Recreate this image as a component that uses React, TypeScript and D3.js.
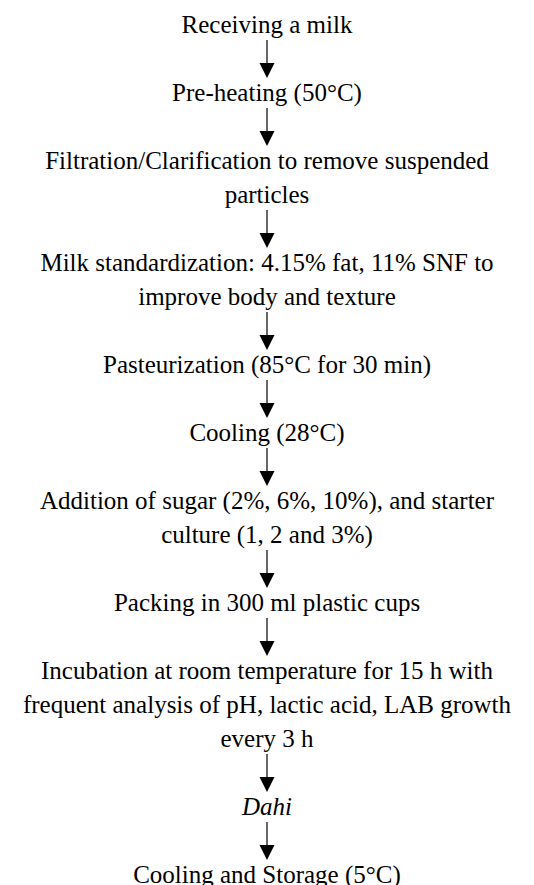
import React, { useEffect, useRef } from 'react';
import * as d3 from 'd3';

// flow steps, top to bottom (each entry = wrapped lines of one box)
const stepLines: string[][] = [
  ['Receiving a milk'],
  ['Pre-heating (50°C)'],
  ['Filtration/Clarification to remove suspended', 'particles'],
  ['Milk standardization: 4.15% fat, 11% SNF to', 'improve body and texture'],
  ['Pasteurization (85°C for 30 min)'],
  ['Cooling (28°C)'],
  ['Addition of sugar (2%, 6%, 10%), and starter', 'culture (1, 2 and 3%)'],
  ['Packing in 300 ml plastic cups'],
  ['Incubation at room temperature for 15 h with', 'frequent analysis of pH, lactic acid, LAB growth', 'every 3 h'],
  ['Dahi'],
  ['Cooling and Storage (5°C)'],
];

const italicSteps: string[] = ['Dahi'];

const W = 534;
const H = 885;

const FlowChart: React.FC = () => {
  const svgRef = useRef<SVGSVGElement>(null);

  useEffect(() => {
    if (!svgRef.current) return;
    const svg = d3.select(svgRef.current);
    svg.selectAll('*').remove();

    const cx = W / 2;
    const fontSize = 25;
    const lineH = 34;
    const stepGap = 68; // last baseline of a step -> first baseline of next
    const firstBaseline = 33;

    // compute baselines for each step
    const layout: { lines: string[]; baselines: number[] }[] = [];
    let y = firstBaseline;
    stepLines.forEach((lines, i) => {
      if (i > 0) y += stepGap;
      const baselines = lines.map((_, j) => y + j * lineH);
      y = baselines[baselines.length - 1];
      layout.push({ lines, baselines });
    });

    const g = svg.append('g');

    layout.forEach(step => {
      const italic = italicSteps.includes(step.lines[0]);
      step.lines.forEach((line, j) => {
        g.append('text')
          .attr('x', cx)
          .attr('y', step.baselines[j])
          .attr('text-anchor', 'middle')
          .style('font-family', "'Times New Roman', 'Liberation Serif', 'DejaVu Serif', serif")
          .style('font-size', `${fontSize}px`)
          .style('font-style', italic ? 'italic' : 'normal')
          .attr('fill', '#000')
          .text(line);
      });
    });

    // arrows between steps
    const headH = 15;
    const headW = 15;
    for (let i = 0; i < layout.length - 1; i++) {
      const fromY = layout[i].baselines[layout[i].baselines.length - 1] + 7;
      const toY = layout[i + 1].baselines[0] - 23;
      g.append('line')
        .attr('x1', cx)
        .attr('x2', cx)
        .attr('y1', fromY)
        .attr('y2', toY - headH + 1)
        .attr('stroke', '#000')
        .attr('stroke-width', 1.2);
      g.append('path')
        .attr('d', `M${cx - headW / 2},${toY - headH} L${cx + headW / 2},${toY - headH} L${cx},${toY} Z`)
        .attr('fill', '#000');
    }
  }, []);

  return (
    <svg
      ref={svgRef}
      width={W}
      height={H}
      viewBox={`0 0 ${W} ${H}`}
      style={{ position: 'absolute', left: 0, top: 0, background: '#fff' }}
    />
  );
};

export default function App() {
  return <FlowChart />;
}
